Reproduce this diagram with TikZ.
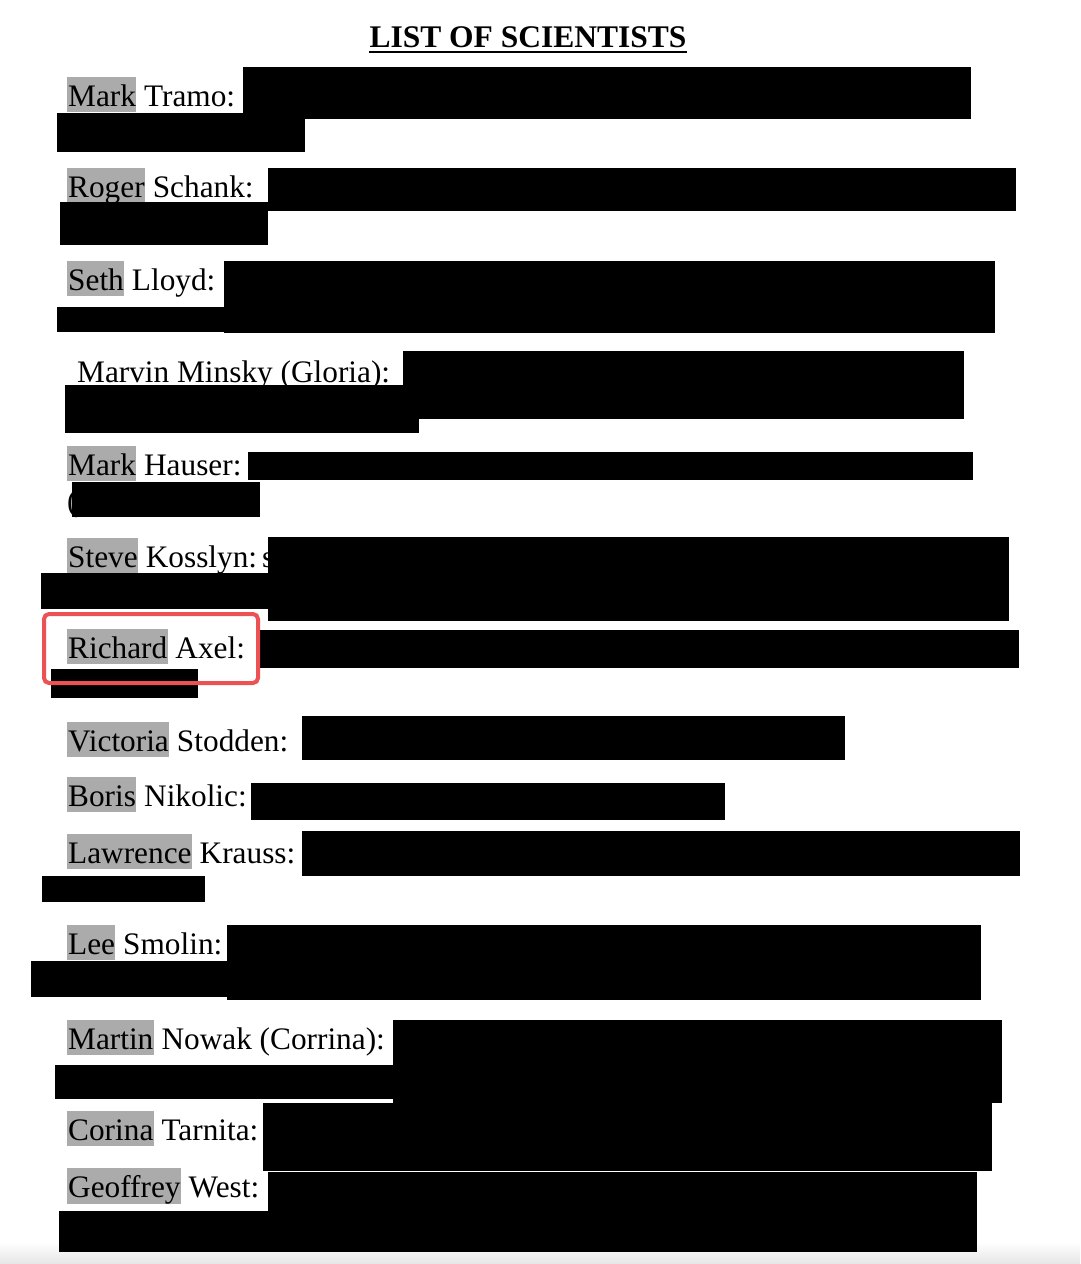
\documentclass[tikz,border=0pt]{standalone}
\usepackage{fontspec}
\setmainfont{Liberation Serif}
\usepackage{xcolor}
\definecolor{hlgray}{HTML}{ABABAB}
\definecolor{markred}{HTML}{EC5254}
\newcommand\hlw[1]{{\setlength\fboxsep{0pt}\colorbox{hlgray}{\rule[-6pt]{0pt}{35pt}\kern1.5pt#1\kern0.3pt}}}
\tikzset{
  entry/.style={anchor=base west, inner sep=0pt, font=\fontsize{31.3}{36}\selectfont},
  redact/.style={fill=black},
  mark box/.style={draw=markred, line width=4pt, rounded corners=5pt}
}
\begin{document}
\begin{tikzpicture}[x=1pt,y=-1pt]
\useasboundingbox (0,0) rectangle (1080,1264);
\fill[white] (0,0) rectangle (1080,1264);
\shade[top color=white, bottom color=black!10] (0,1242) rectangle (1080,1264);

% title
\node[anchor=base, inner sep=0pt, font=\fontsize{31.5}{36}\selectfont\bfseries] (title) at (528,47) {LIST OF SCIENTISTS};
\draw[line width=2.5pt] ([yshift=-5pt]title.base west) -- ([yshift=-5pt]title.base east);

% entries
\node[entry] (e1) at (66.5,106) {\hlw{Mark} Tramo:};
\node[entry] (e2) at (66.5,197) {\hlw{Roger} Schank:};
\node[entry] (e3) at (66.5,290) {\hlw{Seth} Lloyd:};
\node[entry] (e4) at (77,382) {Marvin Minsky (Gloria):};
\node[entry] (e5) at (66.5,475) {\hlw{Mark} Hauser:};
\node[entry] (e5b) at (67,511) {(};
\node[entry] (e6) at (66.5,567) {\hlw{Steve} Kosslyn:};
\node[entry] (e6b) at (262,567) {s};
\node[entry] (e7) at (66.5,658) {\hlw{Richard} Axel:};
\node[entry] (e8) at (66.5,751) {\hlw{Victoria} Stodden:};
\node[entry] (e9) at (66.5,806) {\hlw{Boris} Nikolic:};
\node[entry] (e10) at (66.5,863) {\hlw{Lawrence} Krauss:};
\node[entry] (e11) at (66.5,954) {\hlw{Lee} Smolin:};
\node[entry] (e12) at (66.5,1049) {\hlw{Martin} Nowak (Corrina):};
\node[entry] (e13) at (66.5,1140) {\hlw{Corina} Tarnita:};
\node[entry] (e14) at (66.5,1197) {\hlw{Geoffrey} West:};

% redactions
\fill[redact] (243,67) rectangle (971,119);
\fill[redact] (57,113) rectangle (305,152);
\fill[redact] (268,168) rectangle (1016,211);
\fill[redact] (60,202) rectangle (268,245);
\fill[redact] (224,261) rectangle (995,333);
\fill[redact] (57,307) rectangle (224,332);
\fill[redact] (403,351) rectangle (964,419);
\fill[redact] (65,385) rectangle (419,433);
\fill[redact] (248,452) rectangle (973,480);
\fill[redact] (72,482) rectangle (260,517);
\fill[redact] (268,537) rectangle (1009,621);
\fill[redact] (41,573) rectangle (268,609);
\fill[redact] (259,630) rectangle (1019,668);
\fill[redact] (51,669) rectangle (198,698);
\fill[redact] (302,716) rectangle (845,760);
\fill[redact] (251,783) rectangle (725,820);
\fill[redact] (302,831) rectangle (1020,876);
\fill[redact] (42,876) rectangle (205,902);
\fill[redact] (227,925) rectangle (981,1000);
\fill[redact] (31,961) rectangle (227,997);
\fill[redact] (393,1020) rectangle (1002,1103);
\fill[redact] (55,1065) rectangle (393,1099);
\fill[redact] (263,1103) rectangle (992,1171);
\fill[redact] (268,1172) rectangle (977,1252);
\fill[redact] (59,1211) rectangle (268,1252);

% highlight frame
\draw[mark box] (44,614) rectangle (258,683);
\end{tikzpicture}
\end{document}
